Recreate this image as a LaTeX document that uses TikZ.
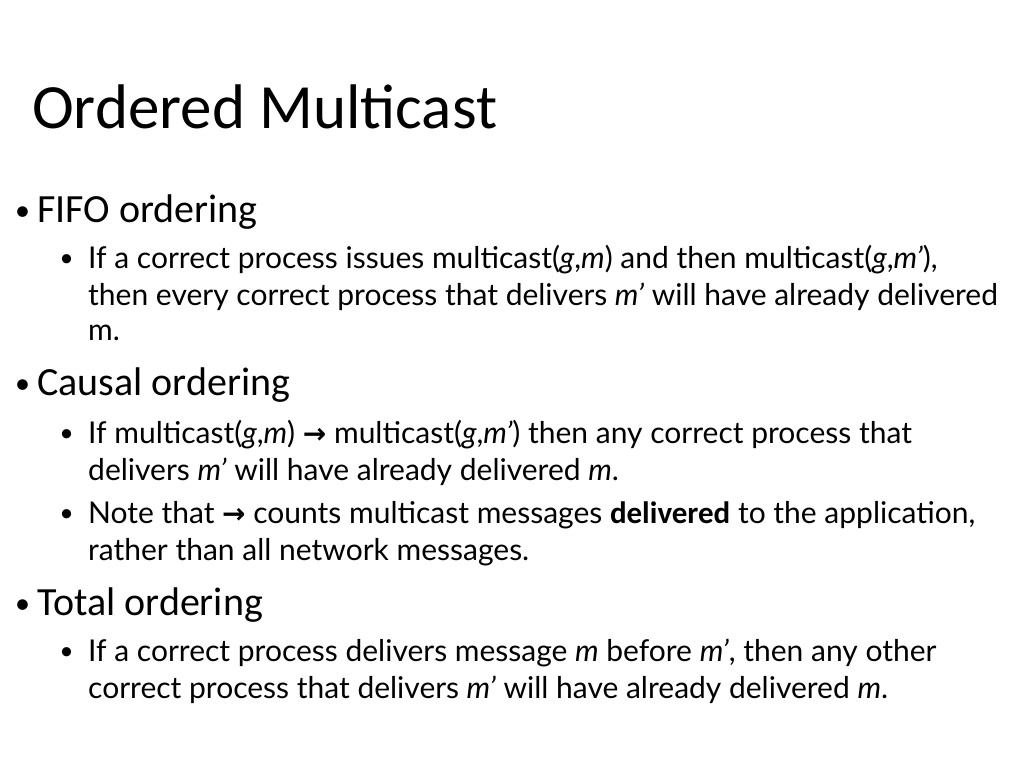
\documentclass[tikz,border=0pt]{standalone}
\usepackage{fontspec}
\setmainfont{Lato}
\newfontfamily\headf{Carlito}
\newfontfamily\arrf{DejaVu Sans}
\newcommand{\ar}{{\arrf\bfseries\fontsize{28}{30}\selectfont →}}
\begin{document}
\begin{tikzpicture}[x=1pt,y=-1pt,
  t1/.style={anchor=base west,inner sep=0,font=\headf\fontsize{40}{44}\selectfont},
  t2/.style={anchor=base west,inner sep=0,font=\fontsize{30}{34}\selectfont},
  b1/.style={anchor=base west,inner sep=0,font=\headf\fontsize{30}{34}\selectfont},
  b2/.style={anchor=base west,inner sep=0,font=\headf\fontsize{26}{30}\selectfont}]
\useasboundingbox (0,0) rectangle (1024,768);
\node[anchor=base west,inner sep=0,font=\headf\fontsize{63}{68}\selectfont] (title) at (32,128) {Ordered Multicast};
\node[b1] (p1) at (15,220) {•}; \node[t1] (h1) at (37,222) {FIFO ordering};
\node[b2] (q1) at (60,266) {•};
\node[t2] (l1) at (88,268) {If a correct process issues multicast(\textit{g},\textit{m}) and then multicast(\textit{g},\textit{m'}),};
\node[t2] (l2) at (88,305) {then every correct process that delivers \textit{m'} will have already delivered};
\node[t2] (l3) at (88,340) {m.};
\node[b1] (p2) at (15,393) {•}; \node[t1] (h2) at (37,395) {Causal ordering};
\node[b2] (q2) at (60,441) {•};
\node[t2] (l4) at (88,443) {If multicast(\textit{g},\textit{m}) \ar\ multicast(\textit{g},\textit{m'}) then any correct process that};
\node[t2] (l5) at (88,480) {delivers \textit{m'} will have already delivered \textit{m}.};
\node[b2] (q3) at (60,521) {•};
\node[t2] (l6) at (88,523) {Note that \ar\ counts multicast messages {\headf\bfseries\fontsize{31}{34}\selectfont delivered} to the application,};
\node[t2] (l7) at (88,560) {rather than all network messages.};
\node[b1] (p3) at (15,613) {•}; \node[t1] (h3) at (37,615) {Total ordering};
\node[b2] (q4) at (60,659) {•};
\node[t2] (l8) at (88,661) {If a correct process delivers message \textit{m} before \textit{m'}, then any other};
\node[t2] (l9) at (88,698) {correct process that delivers \textit{m'} will have already delivered \textit{m}.};
\end{tikzpicture}
\end{document}
